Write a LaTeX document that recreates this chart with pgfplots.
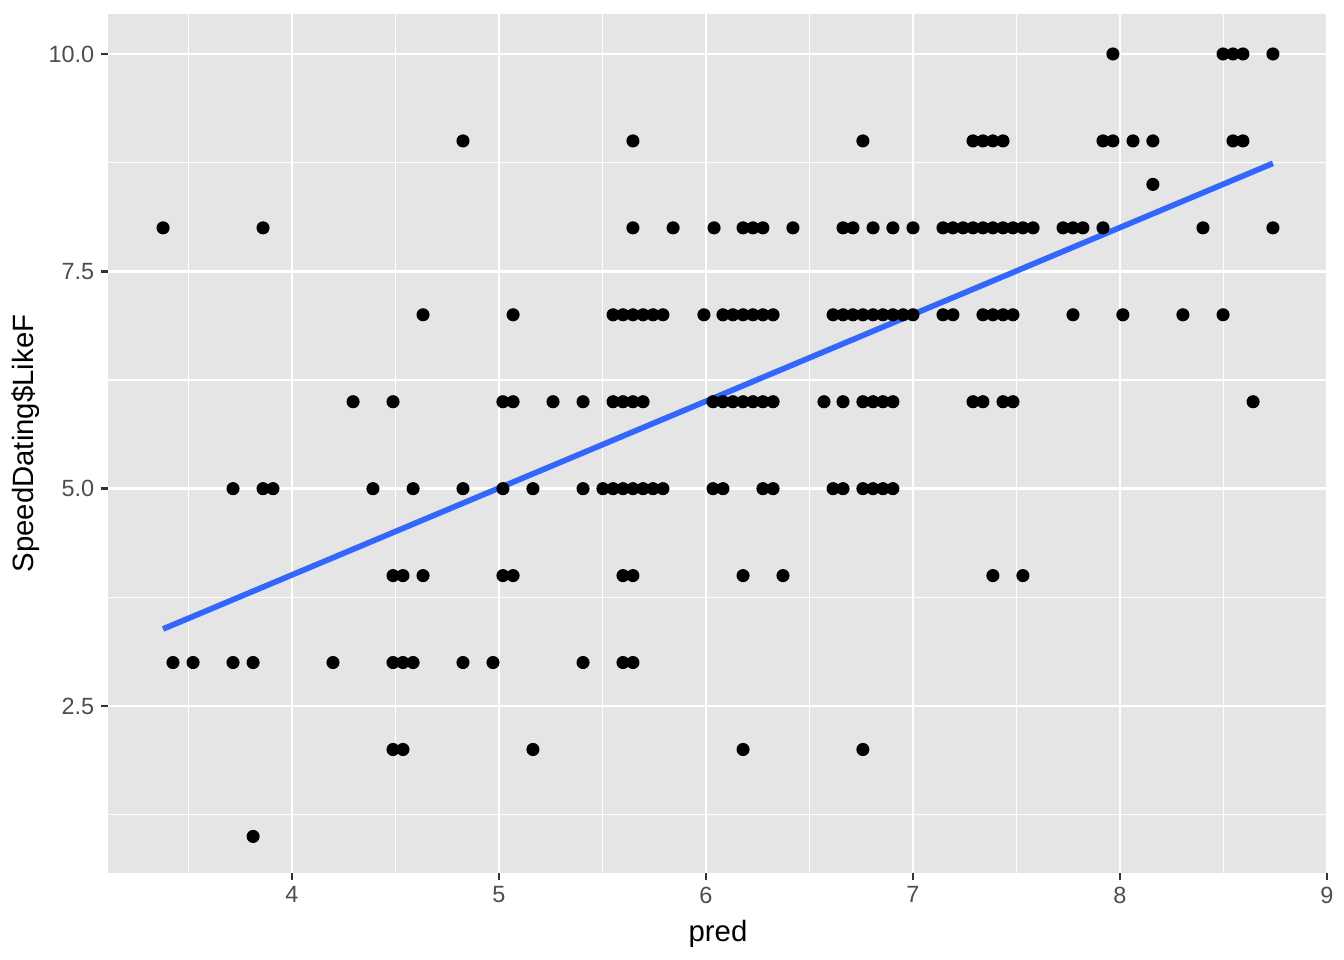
\documentclass[border=0pt]{standalone}
\usepackage{pgfplots}
\pgfplotsset{compat=1.18}
\usepackage{fontspec}
\setmainfont{Liberation Sans}
\definecolor{ggbg}{HTML}{E5E5E5}
\definecolor{ggtext}{HTML}{4D4D4D}
\definecolor{ggtick}{HTML}{333333}
\definecolor{ggblue}{HTML}{3366FF}
\begin{document}
\begin{tikzpicture}
\begin{axis}[
  scale only axis,
  width=457.5pt, height=322.1pt,
  xmin=3.111, xmax=9.005,
  ymin=0.58, ymax=10.46,
  axis background/.style={fill=ggbg},
  axis line style={draw=none},
  xtick={4,5,6,7,8,9},
  ytick={2.5,5,7.5,10},
  yticklabels={2.5,5.0,7.5,10.0},
  minor xtick={3.5,4.5,5.5,6.5,7.5,8.5},
  minor ytick={1.25,3.75,6.25,8.75},
  grid=both,
  major grid style={white, line width=1.07pt},
  minor grid style={white, line width=0.53pt},
  tick align=outside,
  tick pos=left,
  major tick length=2.75pt,
  minor tick length=0pt,
  every tick/.style={ggtick, line width=1.07pt},
  /pgf/number format/assume math mode=true,
  ticklabel style={font=\fontsize{8.8}{10}\selectfont, text=ggtext},
  xticklabel style={inner sep=0pt, yshift=-2.2pt},
  yticklabel style={inner sep=0pt, xshift=-2.2pt},
  xlabel={pred},
  ylabel={SpeedDating\$LikeF},
  label style={font=\fontsize{11}{13}\selectfont},
  xlabel style={inner sep=0pt, yshift=-6pt},
  ylabel style={inner sep=0pt, yshift=3pt},
]
\addplot[only marks, mark=*, mark size=2.25pt, draw=black, fill=black] table[row sep=\\] {
x y\\
7.966 10\\ 8.498 10\\ 8.546 10\\ 8.594 10\\ 8.739 10\\
4.826 9\\ 5.647 9\\ 6.758 9\\ 7.290 9\\ 7.338 9\\ 7.386 9\\ 7.435 9\\ 7.918 9\\ 7.966 9\\ 8.063 9\\ 8.159 9\\ 8.546 9\\ 8.594 9\\
8.159 8.5\\
3.377 8\\ 3.860 8\\ 5.647 8\\ 5.841 8\\ 6.039 8\\ 6.179 8\\ 6.227 8\\ 6.275 8\\ 6.420 8\\ 6.662 8\\ 6.710 8\\ 6.807 8\\ 6.903 8\\ 7.000 8\\
7.145 8\\ 7.193 8\\ 7.242 8\\ 7.290 8\\ 7.338 8\\ 7.386 8\\ 7.435 8\\ 7.483 8\\ 7.531 8\\ 7.580 8\\ 7.725 8\\ 7.773 8\\ 7.821 8\\ 7.918 8\\ 8.401 8\\ 8.739 8\\
4.633 7\\ 5.068 7\\ 5.551 7\\ 5.599 7\\ 5.647 7\\ 5.696 7\\ 5.744 7\\ 5.792 7\\ 5.990 7\\ 6.082 7\\ 6.130 7\\ 6.179 7\\ 6.227 7\\ 6.275 7\\ 6.324 7\\
6.614 7\\ 6.662 7\\ 6.710 7\\ 6.758 7\\ 6.807 7\\ 6.855 7\\ 6.903 7\\ 6.952 7\\ 7.000 7\\ 7.145 7\\ 7.193 7\\ 7.338 7\\ 7.386 7\\ 7.435 7\\ 7.483 7\\
7.773 7\\ 8.014 7\\ 8.304 7\\ 8.498 7\\
4.295 6\\ 4.488 6\\ 5.019 6\\ 5.068 6\\ 5.261 6\\ 5.406 6\\ 5.551 6\\ 5.599 6\\ 5.647 6\\ 5.696 6\\ 6.034 6\\ 6.082 6\\ 6.130 6\\ 6.179 6\\ 6.227 6\\ 6.275 6\\ 6.324 6\\
6.570 6\\ 6.662 6\\ 6.758 6\\ 6.807 6\\ 6.855 6\\ 6.903 6\\ 7.290 6\\ 7.338 6\\ 7.435 6\\ 7.483 6\\ 8.643 6\\
3.715 5\\ 3.860 5\\ 3.908 5\\ 4.391 5\\ 4.585 5\\ 4.826 5\\ 5.019 5\\ 5.164 5\\ 5.406 5\\ 5.502 5\\ 5.551 5\\ 5.599 5\\ 5.647 5\\ 5.696 5\\ 5.744 5\\ 5.792 5\\
6.034 5\\ 6.082 5\\ 6.275 5\\ 6.324 5\\ 6.614 5\\ 6.662 5\\ 6.758 5\\ 6.807 5\\ 6.855 5\\ 6.903 5\\
4.488 4\\ 4.536 4\\ 4.633 4\\ 5.019 4\\ 5.068 4\\ 5.599 4\\ 5.647 4\\ 6.179 4\\ 6.372 4\\ 7.386 4\\ 7.531 4\\
3.425 3\\ 3.522 3\\ 3.715 3\\ 3.812 3\\ 4.198 3\\ 4.488 3\\ 4.536 3\\ 4.585 3\\ 4.826 3\\ 4.971 3\\ 5.406 3\\ 5.599 3\\ 5.647 3\\
4.488 2\\ 4.536 2\\ 5.164 2\\ 6.179 2\\ 6.758 2\\
3.812 1\\
};
\addplot[ggblue, line width=2.13pt] coordinates {(3.377,3.386) (8.739,8.742)};
\end{axis}
\path (current axis.south west) ++(-40.5pt,-32.6pt) coordinate (bbA);
\path (current axis.north east) ++(6pt,5.25pt) coordinate (bbB);
\path (bbA) rectangle (bbB);
\end{tikzpicture}
\end{document}
